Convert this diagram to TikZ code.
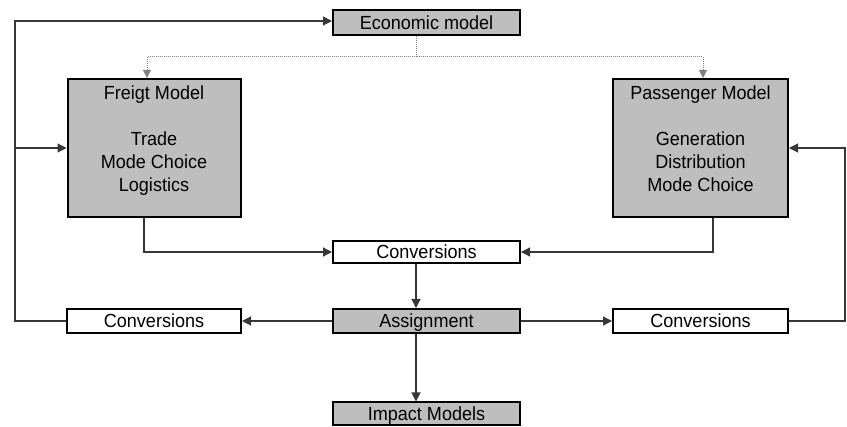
\documentclass[tikz,border=0pt]{standalone}
\usepackage{fontspec}
\setmainfont{Liberation Sans}[FakeStretch=0.95]
\usetikzlibrary{arrows.meta}
\definecolor{boxgray}{RGB}{190,190,190}
\definecolor{linegray}{RGB}{55,55,55}
\definecolor{dotgray}{RGB}{130,130,130}
\tikzset{
  box/.style={draw=black, line width=2pt, inner sep=0pt, text height=13.6pt, text depth=0pt, font=\fontsize{19}{23}\selectfont},
  gbox/.style={box, fill=boxgray},
  wbox/.style={box, fill=white},
  conn/.style={draw=linegray, line width=1.2pt, -{Triangle[length=9pt,width=9pt]}},
  dotline/.style={draw=dotgray, line width=1pt, densely dotted, -{Triangle[length=8pt,width=8pt]}},
  inlabel/.style={anchor=north, inner sep=0pt, yshift=-8pt, align=center, font=\fontsize{19}{22.8}\selectfont}
}
\begin{document}
\begin{tikzpicture}[x=1pt, y=-1pt]
\useasboundingbox (0,0) rectangle (847,427);
\node[gbox, minimum width=187pt, minimum height=25pt] (eco) at (426.5,22.5) {Economic model};
\node[gbox, minimum width=173pt, minimum height=138pt,
  label={[inlabel]north:Freigt Model\\[22.8pt]Trade\\Mode Choice\\Logistics}] (freight) at (154,148) {};
\node[gbox, minimum width=175pt, minimum height=138pt,
  label={[inlabel]north:Passenger Model\\[22.8pt]Generation\\Distribution\\Mode Choice}] (pass) at (700.5,148) {};
\node[wbox, minimum width=187pt, minimum height=22pt] (conv) at (426.5,252) {Conversions};
\node[gbox, minimum width=187pt, minimum height=24pt] (assign) at (426.5,321) {Assignment};
\node[wbox, minimum width=174pt, minimum height=24pt] (convL) at (154,321) {Conversions};
\node[wbox, minimum width=175pt, minimum height=24pt] (convR) at (700.5,321) {Conversions};
\node[gbox, minimum width=187pt, minimum height=23pt] (impact) at (426.5,414) {Impact Models};

\coordinate (mid) at (416,0);
\coordinate (dl) at (147,57);
\coordinate (dr) at (703,57);
\coordinate (lb) at (15,321);
\coordinate (lt) at (15,21);
\coordinate (rb) at (845,321);
\coordinate (rt) at (845,148);
\coordinate (fb) at (144,0);
\coordinate (pb) at (713,0);

\draw[dotline] (eco.south -| mid) |- (dl) -- (freight.north -| dl);
\draw[dotline] (eco.south -| mid) |- (dr) -- (pass.north -| dr);

\draw[conn] (convL.west) -- (lb) -- (lt) -- (eco.west |- lt);
\draw[conn] (freight.west -| lb) -- (freight.west);
\draw[conn] (convR.east) -- (rb) -- (rt) -- (pass.east |- rt);
\draw[conn] (freight.south -| fb) |- (conv.west);
\draw[conn] (pass.south -| pb) |- (conv.east);
\draw[conn] (conv.south -| mid) -- (assign.north -| mid);
\draw[conn] (assign.south -| mid) -- (impact.north -| mid);
\draw[conn] (assign.west) -- (convL.east);
\draw[conn] (assign.east) -- (convR.west);
\end{tikzpicture}
\end{document}
